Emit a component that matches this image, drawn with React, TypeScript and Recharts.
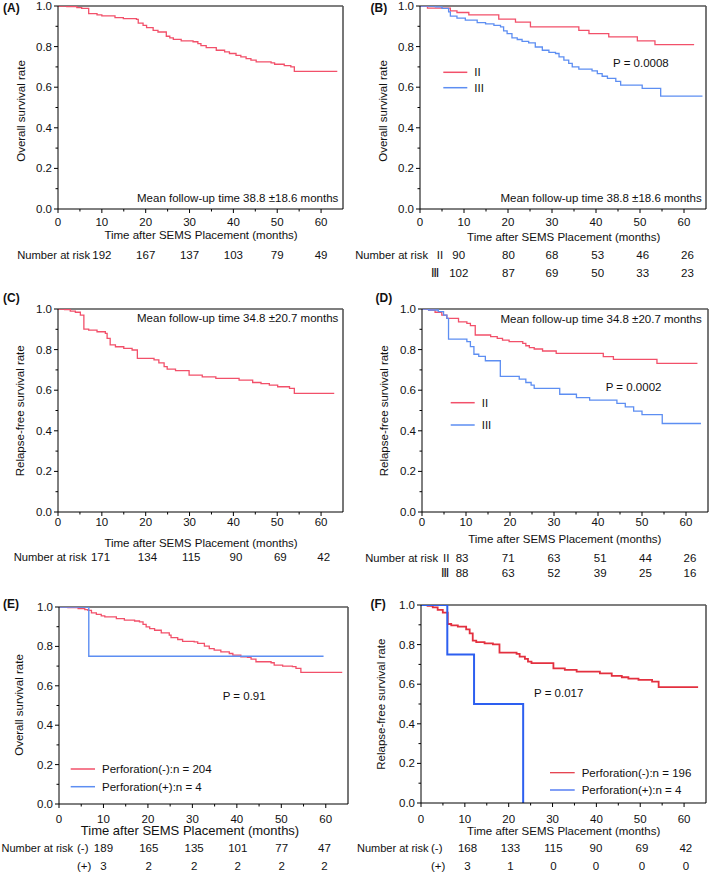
import React from 'react';
import { LineChart, Line, XAxis, YAxis, ReferenceLine } from 'recharts';

type Pt = [number, number];

const FONT = "'Liberation Sans', Arial, Helvetica, sans-serif";
const RED = '#f2506a';
const BLUE = '#5d8ef2';
const RED_F = '#e3303f';
const BLUE_F = '#2d5ff0';

const xTicks = [0, 5, 10, 15, 20, 25, 30, 35, 40, 45, 50, 55, 60];
const yTicks = [0, 0.1, 0.2, 0.3, 0.4, 0.5, 0.6, 0.7, 0.8, 0.9, 1];

// (A) overall survival, all patients
const osAll: Pt[] = [[0, 1], [2, 0.997], [4.3, 0.992], [5.4, 0.988], [7, 0.962], [8.9, 0.956], [10, 0.951], [13, 0.943], [14.9, 0.938], [17.9, 0.934], [18.3, 0.916], [19.4, 0.905], [20.2, 0.893], [21.7, 0.88], [22.8, 0.872], [24.7, 0.851], [25.5, 0.843], [26.3, 0.836], [28.1, 0.828], [30.8, 0.824], [31.9, 0.815], [32.6, 0.805], [33.8, 0.795], [36.1, 0.782], [38, 0.774], [39.1, 0.766], [40.6, 0.757], [41.7, 0.749], [42.9, 0.741], [44, 0.733], [45.2, 0.725], [48.6, 0.72], [49.4, 0.713], [51.6, 0.706], [53.1, 0.7], [53.9, 0.678], [63.7, 0.678]];
// (B) overall survival by stage
const osStageII: Pt[] = [[0, 1], [1.7, 0.99], [6.9, 0.976], [8.4, 0.968], [11.1, 0.956], [17.9, 0.935], [21.7, 0.921], [25.1, 0.897], [36.1, 0.88], [38.4, 0.864], [42.9, 0.848], [49.4, 0.828], [53.4, 0.81], [62.3, 0.81]];
const osStageIII: Pt[] = [[0, 1], [3.5, 0.996], [5, 0.988], [6.5, 0.971], [6.9, 0.95], [8.4, 0.94], [10.3, 0.93], [13, 0.918], [14.9, 0.912], [16.8, 0.905], [18.3, 0.897], [19, 0.877], [19.8, 0.864], [20.9, 0.843], [22.1, 0.835], [23.2, 0.826], [24.7, 0.818], [26.2, 0.798], [27.8, 0.782], [29.3, 0.772], [30.8, 0.766], [31.6, 0.749], [32.7, 0.733], [33.8, 0.717], [34.6, 0.7], [36.1, 0.689], [39.1, 0.68], [40.3, 0.667], [41.4, 0.654], [42.6, 0.643], [44.5, 0.629], [45.6, 0.61], [50.5, 0.594], [54.7, 0.556], [64.2, 0.556]];
// (C) relapse-free survival, all patients
const rfsAll: Pt[] = [[0, 1], [1.5, 0.997], [2.8, 0.99], [3.96, 0.984], [5.1, 0.97], [5.9, 0.901], [7, 0.896], [8.9, 0.888], [10.8, 0.88], [11.2, 0.855], [11.9, 0.823], [13.1, 0.814], [15, 0.806], [16.9, 0.798], [18.1, 0.757], [21.9, 0.749], [23, 0.735], [24.2, 0.716], [24.9, 0.704], [26.8, 0.696], [29.9, 0.674], [32.9, 0.666], [36, 0.658], [41.3, 0.65], [44.4, 0.638], [46.3, 0.632], [48.2, 0.625], [50.1, 0.617], [52.8, 0.609], [53.9, 0.584], [63, 0.584]];
// (D) relapse-free survival by stage
const rfsStageII: Pt[] = [[0, 1], [1.5, 0.995], [2.97, 0.984], [4.5, 0.97], [5.65, 0.954], [8.3, 0.937], [10.2, 0.929], [11, 0.918], [12.1, 0.872], [15.6, 0.864], [17.1, 0.855], [18.3, 0.847], [19.8, 0.839], [22.9, 0.831], [23.6, 0.819], [24.4, 0.81], [25.5, 0.803], [27.4, 0.793], [30.5, 0.781], [41.2, 0.765], [43.5, 0.752], [53.4, 0.732], [62.6, 0.732]];
const rfsStageIII: Pt[] = [[0, 1], [1.5, 0.995], [3.7, 0.987], [4.9, 0.97], [5.65, 0.954], [6.03, 0.852], [10.2, 0.839], [11, 0.815], [11.8, 0.777], [12.9, 0.767], [14.4, 0.745], [17.8, 0.668], [22.1, 0.655], [23.6, 0.638], [24.8, 0.625], [25.5, 0.609], [31.3, 0.58], [35.1, 0.563], [38.1, 0.551], [44.3, 0.535], [46.2, 0.518], [48.1, 0.497], [50, 0.48], [54.6, 0.436], [63.4, 0.436]];
// (E) overall survival by perforation
const osPerfNeg: Pt[] = [[0, 1], [2, 0.997], [4.3, 0.992], [5.8, 0.987], [6.5, 0.983], [7.3, 0.97], [8.4, 0.963], [9.5, 0.955], [10.3, 0.95], [12.9, 0.941], [14.7, 0.933], [17, 0.929], [18.1, 0.924], [18.9, 0.912], [19.6, 0.899], [20.4, 0.89], [21.5, 0.882], [23, 0.869], [24.8, 0.857], [25.2, 0.845], [26.7, 0.835], [27.8, 0.826], [30.4, 0.823], [31.2, 0.815], [32.7, 0.801], [33.8, 0.789], [34.9, 0.781], [36.4, 0.772], [38.3, 0.764], [39.1, 0.756], [40.9, 0.747], [42.4, 0.744], [43.2, 0.735], [44.3, 0.722], [47.7, 0.717], [48.4, 0.705], [50.3, 0.7], [52.5, 0.697], [53.3, 0.688], [54.4, 0.668], [63.7, 0.668]];
const osPerfPos: Pt[] = [[0, 1], [6.7, 0.75], [59.5, 0.75]];
// (F) relapse-free survival by perforation
const rfsPerfNeg: Pt[] = [[0, 1], [1.5, 0.996], [2.68, 0.988], [3.8, 0.975], [4.97, 0.961], [6.1, 0.904], [6.9, 0.897], [8.4, 0.891], [10.3, 0.877], [11.1, 0.857], [11.8, 0.82], [12.6, 0.813], [14.5, 0.806], [16.4, 0.801], [17.9, 0.759], [21.8, 0.753], [22.5, 0.739], [23.7, 0.728], [24.4, 0.714], [25.2, 0.706], [30.2, 0.68], [32.8, 0.672], [35.5, 0.664], [40.8, 0.655], [43.5, 0.642], [45.8, 0.635], [47.3, 0.628], [49.6, 0.622], [52.7, 0.613], [54.2, 0.585], [63.2, 0.585]];
const rfsPerfPos: Pt[] = [[0, 1], [6, 0.75], [12.1, 0.5], [23.3, 0]];

// Number at risk
const riskTimesA = [10, 20, 30, 40, 50, 60];
const riskA = [192, 167, 137, 103, 79, 49];
const riskTimesB = [8.8, 20.1, 30, 40.4, 50.6, 60.8];
const riskBII = [90, 80, 68, 53, 46, 26];
const riskBIII = [102, 87, 69, 50, 33, 23];
const riskTimesC = [9.7, 20.4, 30.4, 40.6, 50.7, 60.6];
const riskC = [171, 134, 115, 90, 69, 42];
const riskTimesD = [9.1, 19.6, 30, 40.5, 50.8, 60.9];
const riskDII = [83, 71, 63, 51, 44, 26];
const riskDIII = [88, 63, 52, 39, 25, 16];
const riskTimesE = [10, 20.2, 30.4, 40.2, 50.1, 59.7];
const riskENeg = [189, 165, 135, 101, 77, 47];
const riskEPos = [3, 2, 2, 2, 2, 2];
const riskTimesF = [10.6, 20.4, 30.2, 39.9, 50.4, 60.4];
const riskFNeg = [168, 133, 115, 90, 69, 42];
const riskFPos = [3, 1, 0, 0, 0, 0];

interface SeriesDef { data: Pt[]; color: string; width: number; }
interface PanelDef {
  id: string;
  plot: { x: number; y: number; w: number; h: number };
  series: SeriesDef[];
  riskTimes: number[];
  riskRows: number[][];
  riskRowY: number[];
  tickDy: number;
}

const panels: PanelDef[] = [
  { id: 'A', plot: { x: 58, y: 6, w: 285, h: 203 }, series: [{ data: osAll, color: RED, width: 1.3 }], riskTimes: riskTimesA, riskRows: [riskA], riskRowY: [255], tickDy: 12.7 },
  { id: 'B', plot: { x: 420, y: 6, w: 286, h: 203 }, series: [{ data: osStageII, color: RED, width: 1.3 }, { data: osStageIII, color: BLUE, width: 1.3 }], riskTimes: riskTimesB, riskRows: [riskBII, riskBIII], riskRowY: [255, 273.3], tickDy: 12.7 },
  { id: 'C', plot: { x: 58, y: 309, w: 285, h: 203 }, series: [{ data: rfsAll, color: RED, width: 1.3 }], riskTimes: riskTimesC, riskRows: [riskC], riskRowY: [556.7], tickDy: 9.5 },
  { id: 'D', plot: { x: 422, y: 309, w: 286, h: 203 }, series: [{ data: rfsStageII, color: RED, width: 1.3 }, { data: rfsStageIII, color: BLUE, width: 1.3 }], riskTimes: riskTimesD, riskRows: [riskDII, riskDIII], riskRowY: [557.7, 573.3], tickDy: 9.5 },
  { id: 'E', plot: { x: 59, y: 607, w: 289, h: 197 }, series: [{ data: osPerfNeg, color: RED, width: 1.3 }, { data: osPerfPos, color: BLUE, width: 1.4 }], riskTimes: riskTimesE, riskRows: [riskENeg, riskEPos], riskRowY: [848.3, 865.7], tickDy: 14.5 },
  { id: 'F', plot: { x: 421, y: 605, w: 285, h: 198 }, series: [{ data: rfsPerfNeg, color: RED_F, width: 1.8 }, { data: rfsPerfPos, color: BLUE_F, width: 2 }], riskTimes: riskTimesF, riskRows: [riskFNeg, riskFPos], riskRowY: [848.3, 865.7], tickDy: 15.5 },
];

const txt = { fontFamily: FONT, fontSize: 11.5, fill: '#111' } as const;

function Panel({ p }: { p: PanelDef }) {
  const ml = 50;
  const mt = 6;
  const left = p.plot.x - ml;
  const top = p.plot.y - mt;
  const width = ml + p.plot.w + 3;
  const height = Math.ceil(Math.max(...p.riskRowY) - top + 12);
  const mb = height - mt - p.plot.h - 30;

  const XTick = (props: any) => {
    const { x, y, payload } = props;
    const v = payload.value as number;
    const major = v % 10 === 0;
    return (
      <g>
        <line x1={x} x2={x} y1={y} y2={y + (major ? 4 : 2.5)} stroke="#000" strokeWidth={1} />
        {major && (
          <text x={x} y={y + p.tickDy} textAnchor="middle" dominantBaseline="central" {...txt}>{v}</text>
        )}
      </g>
    );
  };
  const YTick = (props: any) => {
    const { x, y, payload } = props;
    const v = payload.value as number;
    const major = Math.round(v * 10) % 2 === 0;
    return (
      <g>
        <line x1={x - (major ? 4 : 2.5)} x2={x} y1={y} y2={y} stroke="#000" strokeWidth={1} />
        {major && (
          <text x={x - 6} y={y} textAnchor="end" dominantBaseline="central" {...txt}>{v.toFixed(1)}</text>
        )}
      </g>
    );
  };
  const riskLabel = (idx: number) => (lp: any) => {
    const vx = lp && lp.viewBox ? lp.viewBox.x : 0;
    return (
      <g>
        {p.riskRows.map((row, i) => (
          <text key={i} x={vx} y={p.riskRowY[i] - top} textAnchor="middle" dominantBaseline="central" {...txt}>
            {row[idx]}
          </text>
        ))}
      </g>
    );
  };

  return (
    <div style={{ position: 'absolute', left, top, width, height }}>
      <LineChart width={width} height={height} margin={{ top: mt, right: 3, left: 0, bottom: mb }}>
        <XAxis xAxisId="main" dataKey="t" type="number" domain={[0, 65]} allowDataOverflow ticks={xTicks} interval={0}
          tickSize={0} tickMargin={0} tickLine={false} tick={XTick} axisLine={{ stroke: '#000', strokeWidth: 1 }} height={30} />
        <YAxis type="number" domain={[0, 1]} allowDataOverflow ticks={yTicks} interval={0} width={ml}
          tickSize={0} tickMargin={0} tickLine={false} tick={YTick} axisLine={{ stroke: '#000', strokeWidth: 1 }} />
        <ReferenceLine xAxisId="main" y={1} stroke="#555" strokeWidth={1.6} />
        <ReferenceLine xAxisId="main" x={65} stroke="#555" strokeWidth={1.6} />
        {p.riskTimes.map((t, idx) => (
          <ReferenceLine key={'risk' + idx} xAxisId="main" x={t} stroke="none" strokeWidth={0} label={riskLabel(idx)} />
        ))}
        {p.series.map((s, i) => (
          <Line key={i} xAxisId="main" data={s.data.map(([t, v]) => ({ t, s: v }))} dataKey="s" type="stepAfter"
            stroke={s.color} strokeWidth={s.width} dot={false} activeDot={false} isAnimationActive={false} />
        ))}
      </LineChart>
    </div>
  );
}

function T(props: { x: number; y: number; children: React.ReactNode; anchor?: 'start' | 'middle' | 'end'; size?: number; bold?: boolean; rotate?: boolean }) {
  const { x, y, children, anchor = 'start', size = 11.5, bold, rotate } = props;
  return (
    <text x={x} y={y} textAnchor={anchor} dominantBaseline="central" fontFamily={FONT} fontSize={size}
      fontWeight={bold ? 700 : 400} fill="#111" transform={rotate ? `rotate(-90 ${x} ${y})` : undefined}>
      {children}
    </text>
  );
}

function LegendItem({ x1, x2, y, color, label, w = 1.5 }: { x1: number; x2: number; y: number; color: string; label: string; w?: number }) {
  return (
    <g>
      <line x1={x1} x2={x2} y1={y} y2={y} stroke={color} strokeWidth={w} />
      <T x={x2 + 7} y={y}>{label}</T>
    </g>
  );
}

const XTITLE = 'Time after SEMS Placement (months)';
const NAR = 'Number at risk';

export default function App() {
  return (
    <div style={{ position: 'absolute', left: 0, top: 0, width: 709, height: 872, background: '#fff', overflow: 'hidden' }}>
      {panels.map((p) => <Panel key={p.id} p={p} />)}
      <svg width={709} height={872} style={{ position: 'absolute', left: 0, top: 0, pointerEvents: 'none' }}>
        {/* panel labels */}
        <T x={3} y={7.5} bold size={12}>(A)</T>
        <T x={370.5} y={7.5} bold size={12}>(B)</T>
        <T x={3} y={297.5} bold size={12}>(C)</T>
        <T x={375.5} y={297.5} bold size={12}>(D)</T>
        <T x={3} y={604} bold size={12}>(E)</T>
        <T x={370.5} y={604} bold size={12}>(F)</T>

        {/* y titles */}
        <T x={20.7} y={111} anchor="middle" rotate>Overall survival rate</T>
        <T x={383.3} y={111} anchor="middle" rotate>Overall survival rate</T>
        <T x={20} y={410.8} anchor="middle" rotate>Relapse-free survival rate</T>
        <T x={384} y={410.8} anchor="middle" rotate>Relapse-free survival rate</T>
        <T x={19} y={705} anchor="middle" rotate>Overall survival rate</T>
        <T x={380.7} y={704.2} anchor="middle" rotate>Relapse-free survival rate</T>

        {/* x titles */}
        <T x={201} y={235.3} anchor="middle">{XTITLE}</T>
        <T x={563.7} y={236.7} anchor="middle">{XTITLE}</T>
        <T x={201} y={542.7} anchor="middle">{XTITLE}</T>
        <T x={564.8} y={539.3} anchor="middle">{XTITLE}</T>
        <T x={190} y={830.7} anchor="middle" size={13}>{XTITLE}</T>
        <T x={563.7} y={830.7} anchor="middle">{XTITLE}</T>

        {/* follow-up notes */}
        <T x={338.3} y={198.3} anchor="end">Mean follow-up time 38.8 ±18.6 months</T>
        <T x={701.7} y={198.3} anchor="end">Mean follow-up time 38.8 ±18.6 months</T>
        <T x={338.3} y={317.7} anchor="end">Mean follow-up time 34.8 ±20.7 months</T>
        <T x={701.7} y={319.3} anchor="end">Mean follow-up time 34.8 ±20.7 months</T>

        {/* P values */}
        <T x={613} y={63.3}>P = 0.0008</T>
        <T x={605.7} y={386.7}>P = 0.0002</T>
        <T x={222.7} y={695.7}>P = 0.91</T>
        <T x={534} y={693.3}>P = 0.017</T>

        {/* legends */}
        <LegendItem x1={443.3} x2={467.3} y={72.3} color={RED} label="II" />
        <LegendItem x1={443.3} x2={467.3} y={87.7} color={BLUE} label="III" />
        <LegendItem x1={450.7} x2={474.7} y={402.7} color={RED} label="II" />
        <LegendItem x1={450.7} x2={474.7} y={425} color={BLUE} label="III" />
        <LegendItem x1={70.7} x2={95} y={769} color={RED} label="Perforation(-):n = 204" />
        <LegendItem x1={70.7} x2={95} y={786.7} color={BLUE} label="Perforation(+):n = 4" />
        <LegendItem x1={550} x2={574.7} y={772.7} color={RED_F} label="Perforation(-):n = 196" w={1.2} />
        <LegendItem x1={550} x2={574.7} y={790} color={BLUE_F} label="Perforation(+):n = 4" w={1.2} />

        {/* number at risk labels */}
        <T x={90} y={255} anchor="end" size={11.2}>{NAR}</T>
        <T x={428} y={255} anchor="end" size={11.2}>{NAR}</T>
        <T x={436.7} y={255}>II</T>
        <T x={431} y={273.3}>Ⅲ</T>
        <T x={86.5} y={556.7} anchor="end" size={11.2}>{NAR}</T>
        <T x={438} y={557.7} anchor="end" size={11.2}>{NAR}</T>
        <T x={443} y={557.7}>II</T>
        <T x={441} y={573.3}>Ⅲ</T>
        <T x={73} y={848.3} anchor="end" size={11}>{NAR}</T>
        <T x={77} y={848.3}>(-)</T>
        <T x={77} y={865.7}>(+)</T>
        <T x={428.5} y={848.3} anchor="end" size={11}>{NAR}</T>
        <T x={431} y={848.3}>(-)</T>
        <T x={431} y={865.7}>(+)</T>
      </svg>
    </div>
  );
}
